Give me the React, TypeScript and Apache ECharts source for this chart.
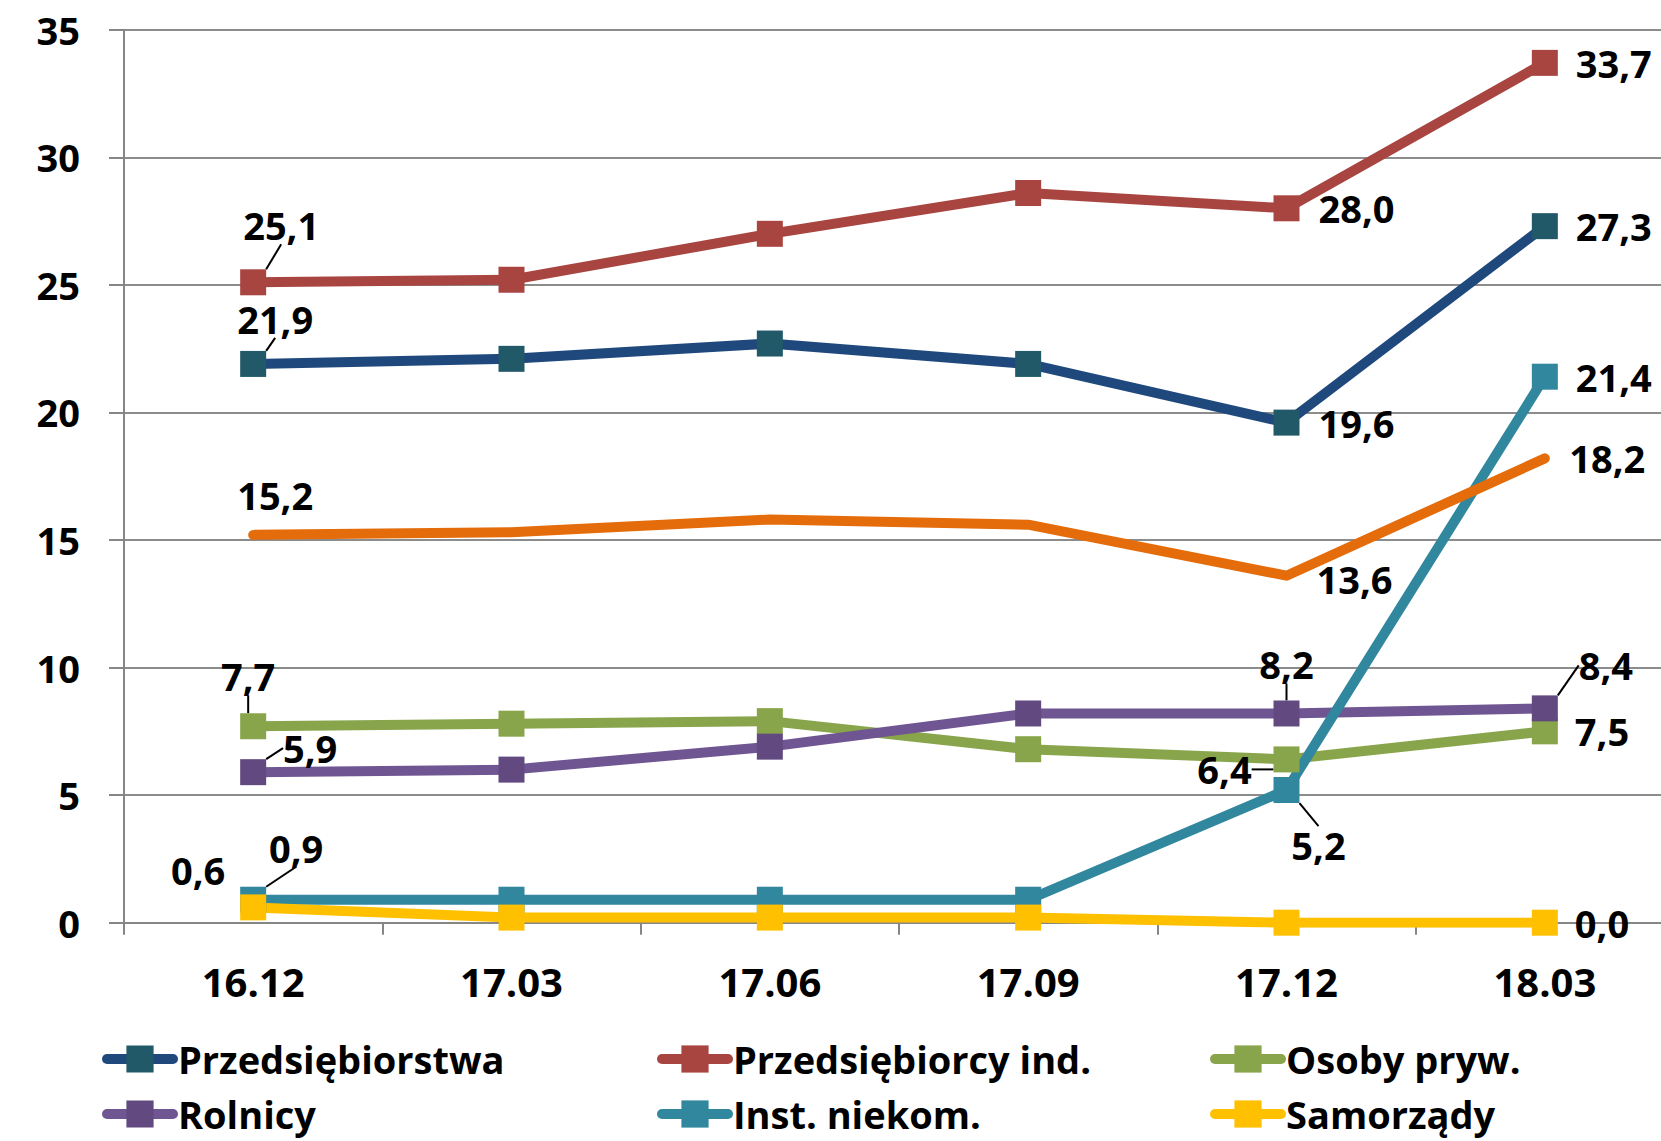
import React, { useEffect, useRef } from "react";
import * as echarts from "echarts";

const categories = ["16.12", "17.03", "17.06", "17.09", "17.12", "18.03"];
const przedsiebiorstwa = [21.9, 22.1, 22.7, 21.9, 19.6, 27.3];
const przedsiebiorcyInd = [25.1, 25.2, 27.0, 28.6, 28.0, 33.7];
const osobyPryw = [7.7, 7.8, 7.9, 6.8, 6.4, 7.5];
const rolnicy = [5.9, 6.0, 6.9, 8.2, 8.2, 8.4];
const instNiekom = [0.9, 0.9, 0.9, 0.9, 5.2, 21.4];
const samorzady = [0.6, 0.2, 0.2, 0.2, 0.0, 0.0];
const ogolem = [15.2, 15.3, 15.8, 15.6, 13.6, 18.2];
const yMin = 0;
const yMax = 35;
const yStep = 5;

const FONT = "Open Sans";
const fmt = (v: number) => v.toFixed(1).replace(".", ",");

type LabelSpec = { i: number; dx?: number; dy?: number; right?: number; line?: boolean };

function makeSeries(
  name: string,
  values: number[],
  lineColor: string,
  markerColor: string,
  labels: LabelSpec[],
  symbolSize = 26
) {
  const specMap = new Map<number, LabelSpec>(labels.map((l) => [l.i, l]));
  return {
    type: "line",
    name,
    data: values.map((v, i) => {
      const s = specMap.get(i);
      if (!s) return v;
      if (s.right != null) {
        return { value: v, label: { show: true, position: "right", distance: s.right } };
      }
      return {
        value: v,
        label: { show: true, position: "inside" },
        labelLine: { show: !!s.line },
      };
    }),
    symbol: "rect",
    symbolSize,
    showAllSymbol: true,
    lineStyle: { color: lineColor, width: 10, cap: "round", join: "round" },
    itemStyle: { color: markerColor },
    label: {
      show: false,
      formatter: (p: any) => fmt(p.value),
      color: "#000",
      fontFamily: FONT,
      fontWeight: "bold",
      fontSize: 38,
    },
    labelLine: { show: false, smooth: false, lineStyle: { color: "#000", width: 2 } },
    labelLayout: (p: any) => {
      const s = specMap.get(p.dataIndex);
      return s && s.dx != null ? { dx: s.dx, dy: s.dy } : {};
    },
    emphasis: { disabled: true },
  };
}

export default function App() {
  const ref = useRef<HTMLDivElement>(null);
  useEffect(() => {
    if (!ref.current) return;
    const chart = echarts.init(ref.current, undefined, { renderer: "svg" });
    const legendCommon = {
      orient: "vertical",
      top: 1039,
      itemWidth: 66,
      itemHeight: 34,
      itemGap: 15,
      padding: 0,
      selectedMode: false,
      textStyle: { fontFamily: FONT, fontWeight: "bold", fontSize: 38, color: "#000", lineHeight: 40 },
      lineStyle: { width: 10, cap: "round" },
    };
    const axisColor = "#868686";
    chart.setOption({
      animation: false,
      backgroundColor: "#fff",
      grid: {
        left: 124,
        top: 29.7,
        width: 1550,
        height: 893,
        containLabel: false,
        outerBoundsMode: "none",
      },
      legend: [
        { ...legendCommon, left: 102, data: ["Przedsiębiorstwa", "Rolnicy"] },
        { ...legendCommon, left: 657, data: ["Przedsiębiorcy ind.", "Inst. niekom."] },
        { ...legendCommon, left: 1210, data: ["Osoby pryw.", "Samorządy"] },
      ],
      xAxis: {
        type: "category",
        data: categories,
        boundaryGap: true,
        axisLine: { show: true, lineStyle: { color: axisColor, width: 2 } },
        axisTick: { show: true, length: 12, lineStyle: { color: axisColor, width: 2 } },
        axisLabel: { fontFamily: FONT, fontWeight: "bold", fontSize: 40, color: "#000", margin: 39 },
        splitLine: { show: false },
      },
      yAxis: {
        type: "value",
        min: yMin,
        max: yMax,
        interval: yStep,
        axisLine: { show: true, lineStyle: { color: axisColor, width: 2 } },
        axisTick: { show: true, length: 15, lineStyle: { color: axisColor, width: 2 } },
        axisLabel: { fontFamily: FONT, fontWeight: "bold", fontSize: 38, color: "#000", margin: 44 },
        splitLine: { show: true, lineStyle: { color: "#8c8c8c", width: 2 } },
      },
      series: [
        makeSeries("Przedsiębiorstwa", przedsiebiorstwa, "#1F497D", "#215968", [
          { i: 0, dx: 22, dy: -45, line: true },
          { i: 4, right: 19 },
          { i: 5, right: 18 },
        ]),
        makeSeries("Przedsiębiorcy ind.", przedsiebiorcyInd, "#A94541", "#A94541", [
          { i: 0, dx: 28, dy: -57, line: true },
          { i: 4, right: 19 },
          { i: 5, right: 18 },
        ]),
        makeSeries("Osoby pryw.", osobyPryw, "#88A54B", "#88A54B", [
          { i: 0, dx: -5, dy: -50, line: true },
          { i: 4, dx: -62, dy: 10, line: true },
          { i: 5, right: 17 },
        ]),
        makeSeries("Rolnicy", rolnicy, "#6F5592", "#624A80", [
          { i: 0, dx: 57, dy: -24, line: true },
          { i: 4, dx: 0, dy: -49, line: true },
          { i: 5, dx: 61, dy: -43, line: true },
        ]),
        makeSeries("Inst. niekom.", instNiekom, "#31879E", "#31879E", [
          { i: 0, dx: 43, dy: -52, line: true },
          { i: 4, dx: 32, dy: 55, line: true },
          { i: 5, right: 18 },
        ]),
        makeSeries("Samorządy", samorzady, "#FFC000", "#FFC000", [
          { i: 0, dx: -55, dy: -37 },
          { i: 5, right: 17 },
        ]),
        makeSeries(
          "Ogółem",
          ogolem,
          "#E46C0A",
          "#E46C0A",
          [
            { i: 0, dx: 22, dy: -40 },
            { i: 4, dx: 68, dy: 3 },
            { i: 5, right: 24 },
          ],
          1
        ),
      ],
    });
    return () => chart.dispose();
  }, []);
  return (
    <div
      ref={ref}
      style={{ position: "absolute", left: 0, top: 0, width: 1661, height: 1141, background: "#fff" }}
    />
  );
}
